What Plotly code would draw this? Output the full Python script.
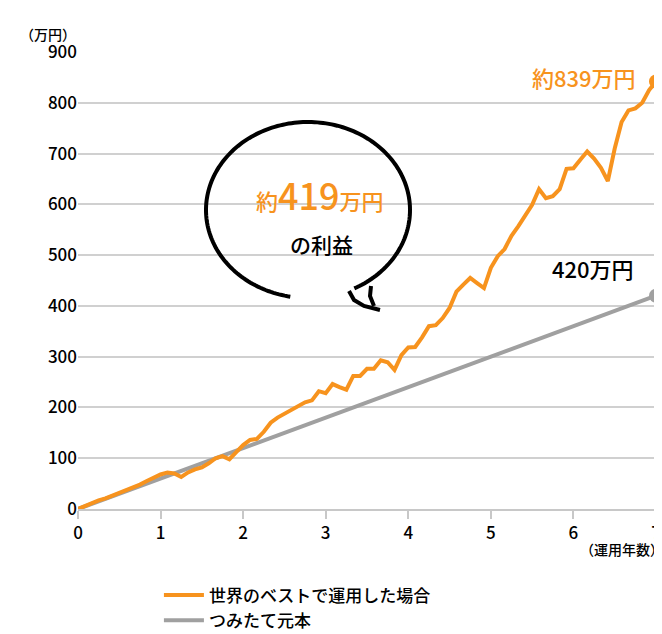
import numpy as np
import plotly.graph_objects as go

months = list(range(85))
orange = [0, 6, 11, 17, 21, 26, 32, 37, 42, 48, 55, 62, 68, 72, 70, 63, 72, 78, 82, 90,
          100, 104, 98, 112, 126, 136, 138, 152, 170, 180, 188, 196, 204, 210, 214, 232, 228,
          246, 240, 235, 262, 262, 276, 276, 293, 289, 274, 303, 318, 319, 338, 360, 362,
          376, 396, 428, 442, 455, 445, 435, 475, 498, 512, 538, 557, 578, 599, 630, 612,
          616, 630, 670, 671, 688, 704, 690, 672, 646, 710, 762, 785, 789, 800, 825, 842]
gray = [0, 5, 10, 15, 20, 25, 30, 35, 40, 45, 50, 55, 60, 65, 70, 75, 80, 85, 90, 95,
        100, 105, 110, 115, 120, 125, 130, 135, 140, 145, 150, 155, 160, 165, 170, 175, 180,
        185, 190, 195, 200, 205, 210, 215, 220, 225, 230, 235, 240, 245, 250, 255, 260,
        265, 270, 275, 280, 285, 290, 295, 300, 305, 310, 315, 320, 325, 330, 335, 340,
        345, 350, 355, 360, 365, 370, 375, 380, 385, 390, 395, 400, 405, 410, 415, 420]
years = [m / 12 for m in months]

ORANGE = "#f7931e"
GRAY = "#a0a0a0"
FONT = "Noto Sans CJK JP"

def px2d(px, py):
    # pixel position in the 662x634 picture -> data coords
    return (px - 70) / 578 * 7, (501 - py) / 457 * 900

fig = go.Figure()
fig.add_trace(go.Scatter(x=years, y=gray, mode="lines", name="つみたて元本",
                         line=dict(color=GRAY, width=4)))
fig.add_trace(go.Scatter(x=years, y=orange, mode="lines", name="世界のベストで運用した場合",
                         line=dict(color=ORANGE, width=4)))
fig.add_trace(go.Scatter(x=[years[-1]], y=[orange[-1]], mode="markers", showlegend=False,
                         cliponaxis=False, marker=dict(color=ORANGE, size=14)))
fig.add_trace(go.Scatter(x=[years[-1]], y=[gray[-1]], mode="markers", showlegend=False,
                         cliponaxis=False, marker=dict(color=GRAY, size=14)))

# speech bubble outline (decoration)
cx, cy, rx, ry = 300, 202, 102, 88
t = np.linspace(np.deg2rad(-63), np.deg2rad(360 - 100), 200)
pts = [px2d(cx + rx * np.cos(a), cy - ry * np.sin(a)) for a in t]
path = "M " + " L ".join(f"{x:.4f},{y:.3f}" for x, y in pts)
fig.add_shape(type="path", path=path, line=dict(color="black", width=4))
tail1 = [px2d(341, 283), px2d(346, 292), px2d(356, 298), px2d(372, 302)]
tail2 = [px2d(363, 278), px2d(362, 288), px2d(366, 298)]
for tl in (tail1, tail2):
    p = "M " + " L ".join(f"{x:.4f},{y:.3f}" for x, y in tl)
    fig.add_shape(type="path", path=p, line=dict(color="black", width=4))

bx, by = px2d(312, 186)
fig.add_annotation(x=bx, y=by, showarrow=False,
                   text="<span style='font-size:22px'>約</span>419<span style='font-size:22px'>万円</span>",
                   font=dict(family=FONT, size=36, color=ORANGE, weight=500))
bx, by = px2d(313, 236)
fig.add_annotation(x=bx, y=by, showarrow=False, text="の利益",
                   font=dict(family=FONT, size=21, color="black", weight=500))
fig.add_annotation(x=years[-1], y=orange[-1], xshift=-18, yshift=4, xanchor="right", showarrow=False,
                   text="約839万円", font=dict(family=FONT, size=22, color=ORANGE, weight=500))
fig.add_annotation(x=years[-1], y=gray[-1], xshift=-20, yshift=28, xanchor="right", showarrow=False,
                   text="420万円", font=dict(family=FONT, size=22, color="black", weight=500))
fig.add_annotation(x=0, y=1, xref="paper", yref="paper", xshift=0, yshift=30, xanchor="right",
                   showarrow=False, text="（万円）", font=dict(family=FONT, size=14, color="black"))
fig.add_annotation(x=1, y=0, xref="paper", yref="paper", xshift=10, yshift=-52, xanchor="right",
                   showarrow=False, text="（運用年数）", font=dict(family=FONT, size=14, color="black"))

fig.update_layout(
    width=662, height=634, template="none",
    paper_bgcolor="white", plot_bgcolor="white",
    margin=dict(l=70, r=14, t=44, b=133, autoexpand=False),
    font=dict(family=FONT, size=17, color="black", weight=500),
    showlegend=True,
    legend=dict(x=0.14, y=-0.15, xanchor="left", yanchor="top", traceorder="reversed",
                font=dict(size=17), itemwidth=40),
)
fig.update_xaxes(range=[0, 7], tickvals=[0, 1, 2, 3, 4, 5, 6, 7], showgrid=False,
                 showline=True, linecolor="#c8c8c8", linewidth=2, ticks="outside",
                 tickcolor="#c8c8c8", ticklen=8, tickwidth=2, zeroline=False,
                 tickfont=dict(size=17), automargin=False)
fig.update_yaxes(range=[0, 900], dtick=100, showgrid=True, gridcolor="#d0d0d0", gridwidth=2,
                 zeroline=False, showline=False, ticks="", tickfont=dict(size=17),
                 automargin=False)

fig.write_html("out.html")
